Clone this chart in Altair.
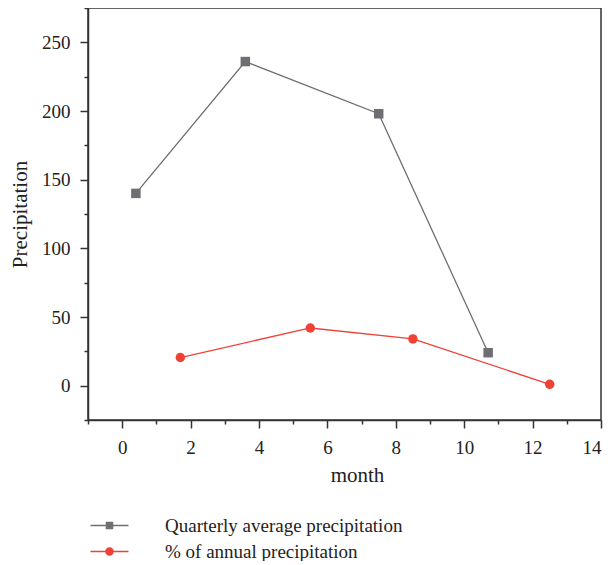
import altair as alt
import pandas as pd

series_names = ["Quarterly average precipitation", "% of annual precipitation"]
series_codes = ["q", "a"]
quarterly_month = [0.4, 3.6, 7.5, 10.7]
quarterly_value = [140, 236, 198, 24]
annual_month = [1.7, 5.5, 8.5, 12.5]
annual_value = [20.5, 42, 34, 1]
x_ticks = list(range(-1, 15))
y_ticks = list(range(-25, 276, 25))
colors = ["#6f6f73", "#ef4136"]

rows = []
for m, v in zip(quarterly_month, quarterly_value):
    rows.append({"series": series_names[0], "code": series_codes[0], "month": m, "value": v})
for m, v in zip(annual_month, annual_value):
    rows.append({"series": series_names[1], "code": series_codes[1], "month": m, "value": v})
df = pd.DataFrame(rows)

FONT = "Liberation Serif"
LINE = "M-3.8,-0.15H3.8V0.15H-3.8Z"
SQ = LINE + "M-0.75,-0.75H0.75V0.75H-0.75Z"
CI = LINE + "M0.85,0A0.85,0.85,0,1,1,-0.85,0A0.85,0.85,0,1,1,0.85,0Z"
sym_expr = f"datum.value === '{series_names[0]}' ? '{SQ}' : '{CI}'"

x = alt.X(
    "month:Q",
    scale=alt.Scale(domain=[-1, 14], nice=False, zero=False),
    axis=alt.Axis(
        title="month",
        values=x_ticks,
        labelExpr="datum.value % 2 === 0 ? datum.label : ''",
        tickSize={"condition": {"test": "datum.value % 2 === 0", "value": 8}, "value": 4},
        grid=False,
        labelPadding=10,
        titlePadding=7,
        titleX=269,
    ),
)
y = alt.Y(
    "value:Q",
    scale=alt.Scale(domain=[-25, 275], nice=False, zero=False),
    axis=alt.Axis(
        title="Precipitation",
        values=y_ticks,
        labelExpr="(datum.value % 50 === 0 && datum.value >= 0 && datum.value <= 250) ? datum.label : ''",
        tickSize={"condition": {"test": "datum.value % 50 === 0", "value": 8}, "value": 4},
        grid=False,
        labelPadding=10,
        titlePadding=11,
    ),
)

lines = alt.Chart(df).mark_line(strokeWidth=1.3).encode(
    x=x, y=y,
    stroke=alt.Stroke("code:N", scale=alt.Scale(domain=series_codes, range=colors), legend=None),
    detail="code:N",
)
points = alt.Chart(df).mark_point(filled=True, opacity=1, size=90).encode(
    x=x, y=y,
    color=alt.Color(
        "series:N", scale=alt.Scale(domain=series_names, range=colors),
        legend=alt.Legend(
            title=None,
            orient="none",
            legendX=12,
            legendY=508,
            direction="vertical",
            symbolType=alt.ExprRef(sym_expr),
            symbolSize=100,
            labelOffset=46,
            labelLimit=500,
            labelFont=FONT,
            labelFontSize=19,
            labelColor="#222222",
            rowPadding=6,
            padding=0,
        ),
    ),
    shape=alt.Shape("code:N", scale=alt.Scale(domain=series_codes, range=["square", "circle"]), legend=None),
)

chart = alt.layer(lines, points).properties(
    width=513, height=412,
    autosize=alt.AutoSizeParams(type="none"),
    padding={"left": 80, "top": 0, "right": 4, "bottom": 141},
).configure_view(
    stroke="#333333", strokeWidth=1.5
).configure_axis(
    labelFont=FONT, titleFont=FONT, labelFontSize=19, titleFontSize=21,
    titleFontWeight="normal", labelColor="#222222", titleColor="#222222",
    domainColor="#333333", tickColor="#333333", domainWidth=1.5, tickWidth=1.5,
)

chart.save("out.html", embed_options={"renderer": "svg", "actions": False})
